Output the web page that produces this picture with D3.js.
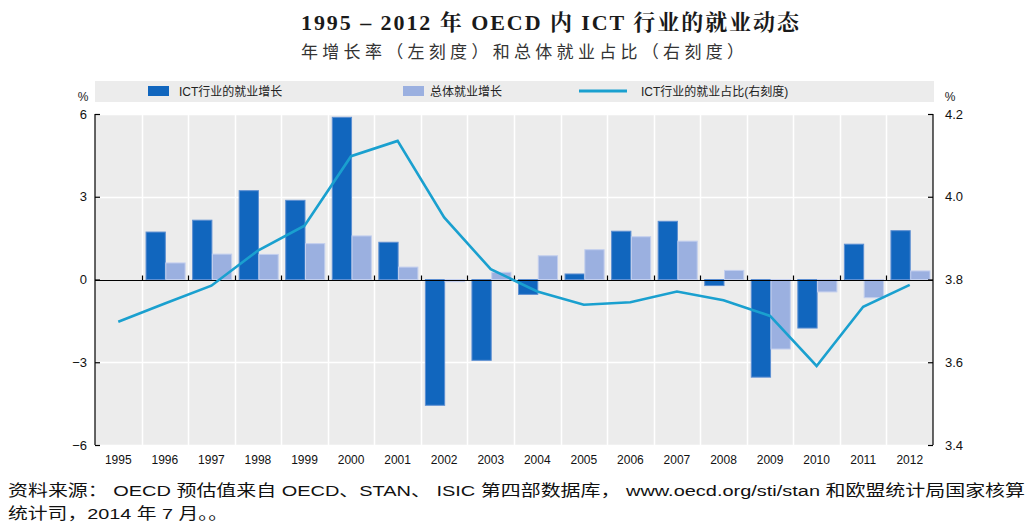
<!DOCTYPE html>
<html><head><meta charset="utf-8">
<script src="https://d3js.org/d3.v7.min.js"></script>
<style>
html,body{margin:0;padding:0;background:#fff;}
svg{display:block;}
</style></head>
<body>
<svg id="c" width="1033" height="526"></svg>
<script>
const years = ["1995","1996","1997","1998","1999","2000","2001","2002","2003","2004","2005","2006","2007","2008","2009","2010","2011","2012"];
const ictGrowth = [null,1.72,2.15,3.22,2.87,5.88,1.35,-4.56,-2.93,-0.54,0.20,1.75,2.11,-0.22,-3.54,-1.76,1.28,1.77];
const totalGrowth = [null,0.60,0.92,0.91,1.30,1.58,0.45,-0.08,0.26,0.86,1.08,1.55,1.39,0.33,-2.52,-0.45,-0.66,0.31];
const ictShare = [3.698,3.742,3.785,3.870,3.930,4.098,4.135,3.950,3.825,3.771,3.739,3.745,3.771,3.750,3.712,3.591,3.734,3.787];
const leftTicks = [-6,-3,0,3,6];
const rightTicks = [3.4,3.6,3.8,4.0,4.2];
const title = "1995 – 2012 年 OECD 内 ICT 行业的就业动态";
const subtitle = "年增长率（左刻度）和总体就业占比（右刻度）";
const legendLabels = ["ICT行业的就业增长","总体就业增长","ICT行业的就业占比(右刻度)"];
const sourceLines = ["资料来源： OECD 预估值来自 OECD、STAN、 ISIC 第四部数据库， www.oecd.org/sti/stan 和欧盟统计局国家核算","统计司，2014 年 7 月。。"];

const C_DARK="#1166be", C_LIGHT="#9bb0e0", C_LINE="#1aa0cf", C_BG="#ececec";
const svg = d3.select("#c");
const L=95, R=933, T=114, B=445;
const sansCJK = "'Noto Sans CJK SC','Noto Sans',sans-serif";
const latinCJK = "'Liberation Sans','Noto Sans CJK SC',sans-serif";
const narrow = "'Liberation Sans Narrow','Liberation Sans',Arial,sans-serif";

const x = d3.scaleBand().domain(years).range([L,R]).padding(0);
const yL = d3.scaleLinear().domain([-6,6]).range([B,T]);
const yR = d3.scaleLinear().domain([3.4,4.2]).range([B,T]);
const bw = x.bandwidth();
const inner = d3.scaleBand().domain(["ict","tot"]).range([4.5, bw-2.5]).padding(0);

// title
svg.append("text").attr("x",301).attr("y",30)
  .attr("font-family","'Liberation Serif','Noto Serif CJK SC','Noto Sans CJK SC',serif")
  .attr("font-weight","bold").attr("font-size",22).attr("fill","#1a1a1a")
  .attr("textLength",498).attr("lengthAdjust","spacing").text(title);
svg.append("text").attr("x",301).attr("y",58)
  .attr("font-family",sansCJK).attr("font-size",17).attr("letter-spacing",4.3)
  .attr("fill","#333").text(subtitle);

// legend band
svg.append("rect").attr("x",L).attr("y",81).attr("width",R-L+1).attr("height",21).attr("fill",C_BG);
const lg = svg.append("g").attr("font-family",latinCJK).attr("font-size",12).attr("fill","#222");
lg.append("rect").attr("x",148).attr("y",86).attr("width",21).attr("height",10).attr("fill",C_DARK);
lg.append("text").attr("x",179).attr("y",96).text(legendLabels[0]);
lg.append("rect").attr("x",403).attr("y",86).attr("width",21).attr("height",10).attr("fill",C_LIGHT);
lg.append("text").attr("x",430).attr("y",96).text(legendLabels[1]);
lg.append("line").attr("x1",579).attr("x2",627).attr("y1",91).attr("y2",91).attr("stroke",C_LINE).attr("stroke-width",3);
lg.append("text").attr("x",641).attr("y",96).text(legendLabels[2]);

// % labels
svg.append("text").attr("x",83).attr("y",101).attr("font-family",narrow).attr("font-size",12).attr("fill","#222").attr("text-anchor","middle").text("%");
svg.append("text").attr("x",950).attr("y",101).attr("font-family",narrow).attr("font-size",12).attr("fill","#222").attr("text-anchor","middle").text("%");

// plot bg
svg.append("rect").attr("x",L).attr("y",T).attr("width",R-L).attr("height",B-T).attr("fill",C_BG);
// grid
const grid = svg.append("g").attr("stroke","#fff").attr("stroke-width",1.5);
years.slice(1).forEach(d=>{ const gx=Math.round(x(d))+0.5; grid.append("line").attr("x1",gx).attr("x2",gx).attr("y1",T).attr("y2",B); });
leftTicks.filter(t=>t!==0).forEach(t=>{ const gy=Math.round(yL(t))+0.5; grid.append("line").attr("x1",L).attr("x2",R).attr("y1",gy).attr("y2",gy); });

// bars
const barG = svg.append("g");
years.forEach((yr,i)=>{
  [["ict",ictGrowth[i],C_DARK,"#5d8fd2"],["tot",totalGrowth[i],C_LIGHT,"#c3cfee"]].forEach(([k,v,c,s])=>{
    if(v===null) return;
    const y0=yL(0), y1=yL(v);
    barG.append("rect").attr("x",x(yr)+inner(k)).attr("width",inner.bandwidth()-0.5)
      .attr("y",Math.min(y0,y1)).attr("height",Math.abs(y1-y0))
      .attr("fill",c).attr("stroke",s).attr("stroke-width",1);
  });
});

// zero line with upward ticks
const zy = Math.round(yL(0))+0.5;
svg.append("line").attr("x1",L).attr("x2",R).attr("y1",zy).attr("y2",zy).attr("stroke","#000").attr("stroke-width",1.2);
years.slice(1).forEach(d=>{ const gx=Math.round(x(d))+0.5; svg.append("line").attr("x1",gx).attr("x2",gx).attr("y1",zy).attr("y2",zy-5).attr("stroke","#000").attr("stroke-width",1.2); });

// line
const line = d3.line().x((d,i)=>x(years[i])+bw/2).y(d=>yR(d));
svg.append("path").datum(ictShare).attr("d",line).attr("fill","none").attr("stroke",C_LINE).attr("stroke-width",2.6).attr("stroke-linejoin","miter");

// axes
const axL = d3.axisLeft(yL).tickValues(leftTicks).tickSize(-5).tickPadding(8).tickFormat(d3.format("d"));
const gL = svg.append("g").attr("transform",`translate(${L},0)`).call(axL);
const axR = d3.axisRight(yR).tickValues(rightTicks).tickSize(-5).tickPadding(12).tickFormat(d3.format(".1f"));
const gR = svg.append("g").attr("transform",`translate(${R},0)`).call(axR);
[gL,gR].forEach(g=>{
  g.select(".domain").attr("d", `M0,${T}V${B}`).attr("stroke","#000").attr("stroke-width",1.2);
  g.selectAll(".tick line").attr("stroke","#000").attr("stroke-width",1.2);
  g.selectAll(".tick text").attr("font-family",narrow).attr("font-size",13).attr("fill","#111");
});

const axB = d3.axisBottom(x).tickSize(0).tickPadding(10);
const gB = svg.append("g").attr("transform",`translate(0,${B})`).call(axB);
gB.select(".domain").remove();
gB.selectAll(".tick text").attr("font-family",narrow).attr("font-size",12).attr("fill","#111");

// source
const src = svg.append("g").attr("font-family",latinCJK).attr("font-size",15.5).attr("fill","#111");
src.append("text").attr("x",8).attr("y",496).attr("textLength",1017).attr("lengthAdjust","spacingAndGlyphs").text(sourceLines[0]);
src.append("text").attr("x",8).attr("y",519).attr("textLength",220).attr("lengthAdjust","spacingAndGlyphs").text(sourceLines[1]);
</script>
</body></html>
